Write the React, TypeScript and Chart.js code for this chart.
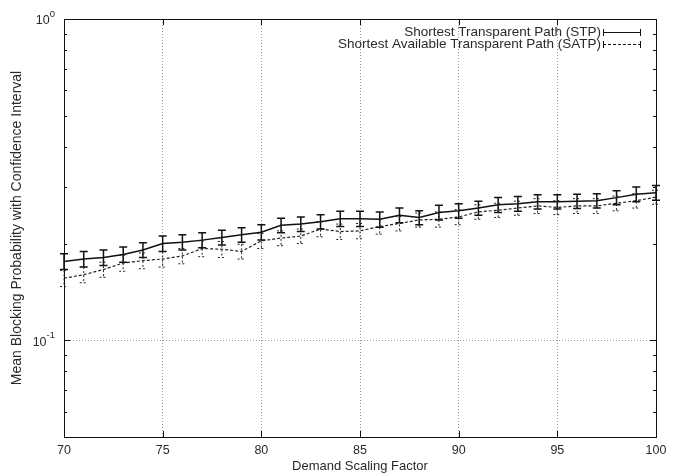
import React, { useEffect, useRef } from 'react';
import { Chart, registerables } from 'chart.js';

Chart.register(...registerables);

const FONT = '"Liberation Sans", Arial, Helvetica, sans-serif';
const TEXT = '#2a2a2a';

const demandFactors = [70, 71, 72, 73, 74, 75, 76, 77, 78, 79, 80, 81, 82, 83, 84, 85, 86, 87, 88, 89, 90, 91, 92, 93, 94, 95, 96, 97, 98, 99, 100];

const stpMean = [0.176, 0.179, 0.181, 0.185, 0.191, 0.200, 0.202, 0.205, 0.209, 0.213, 0.217, 0.228, 0.230, 0.234, 0.239, 0.239, 0.238, 0.245, 0.241, 0.250, 0.253, 0.258, 0.264, 0.266, 0.270, 0.270, 0.271, 0.272, 0.278, 0.285, 0.288];
const stpCi = [0.010, 0.010, 0.010, 0.010, 0.010, 0.011, 0.011, 0.011, 0.011, 0.011, 0.012, 0.012, 0.012, 0.012, 0.013, 0.013, 0.013, 0.013, 0.012, 0.013, 0.013, 0.013, 0.014, 0.014, 0.014, 0.014, 0.014, 0.014, 0.014, 0.015, 0.015];

const satpMean = [0.156, 0.160, 0.166, 0.174, 0.177, 0.179, 0.183, 0.193, 0.192, 0.189, 0.204, 0.208, 0.211, 0.222, 0.218, 0.219, 0.226, 0.231, 0.237, 0.238, 0.242, 0.251, 0.254, 0.258, 0.262, 0.259, 0.262, 0.262, 0.267, 0.272, 0.279];
const satpCi = [0.009, 0.009, 0.009, 0.010, 0.010, 0.010, 0.010, 0.011, 0.011, 0.010, 0.011, 0.011, 0.011, 0.012, 0.012, 0.012, 0.012, 0.012, 0.012, 0.013, 0.013, 0.013, 0.013, 0.013, 0.014, 0.013, 0.014, 0.014, 0.014, 0.014, 0.014];

const seriesNames = ['Shortest Transparent Path (STP)', 'Shortest Available Transparent Path (SATP)'];

const xTickValues = [70, 75, 80, 85, 90, 95, 100];
const yTickValues = [0.05, 0.06, 0.07, 0.08, 0.09, 0.1, 0.2, 0.3, 0.4, 0.5, 0.6, 0.7, 0.8, 0.9, 1];
const yMajorValues = [0.1, 1];
const yMajorLabels = ['10^-1', '10^0'];

const xTitle = 'Demand Scaling Factor';
const yTitle = 'Mean Blocking Probability with Confidence Interval';

const CAP = 4;

const decorPlugin = {
  id: 'gnuplotDecor',
  afterDatasetsDraw(chart: any) {
    const { ctx } = chart;
    const xs = chart.scales.x;
    const ys = chart.scales.y;
    chart.data.datasets.forEach((ds: any) => {
      ctx.save();
      ctx.strokeStyle = ds.borderColor;
      ctx.lineWidth = ds.errLineWidth;
      ctx.setLineDash(ds.errDash);
      ds.data.forEach((p: any, i: number) => {
        const px = xs.getPixelForValue(p.x);
        const top = ys.getPixelForValue(p.y + ds.ci[i]);
        const bot = ys.getPixelForValue(p.y - ds.ci[i]);
        ctx.beginPath();
        ctx.moveTo(px, top);
        ctx.lineTo(px, bot);
        ctx.moveTo(px - CAP, top);
        ctx.lineTo(px + CAP, top);
        ctx.moveTo(px - CAP, bot);
        ctx.lineTo(px + CAP, bot);
        ctx.stroke();
      });
      ctx.restore();
    });
  },
  afterDraw(chart: any) {
    const { ctx, chartArea } = chart;
    const { left, right, top, bottom } = chartArea;
    const xs = chart.scales.x;
    const ys = chart.scales.y;
    ctx.save();
    ctx.strokeStyle = '#111';
    ctx.lineWidth = 1;
    ctx.setLineDash([]);
    // frame
    ctx.strokeRect(Math.round(left) + 0.5, Math.round(top) + 0.5, Math.round(right - left), Math.round(bottom - top));
    // x ticks (inward, bottom and top)
    ctx.beginPath();
    xTickValues.forEach((v) => {
      const px = Math.round(xs.getPixelForValue(v)) + 0.5;
      ctx.moveTo(px, bottom);
      ctx.lineTo(px, bottom - 6);
      ctx.moveTo(px, top);
      ctx.lineTo(px, top + 6);
    });
    // y ticks (inward, left and right)
    yTickValues.forEach((v) => {
      const py = Math.round(ys.getPixelForValue(v)) + 0.5;
      const len = yMajorValues.includes(v) ? 6 : 3;
      ctx.moveTo(left, py);
      ctx.lineTo(left + len, py);
      ctx.moveTo(right, py);
      ctx.lineTo(right - len, py);
    });
    ctx.stroke();

    // y tick labels with superscripts
    ctx.fillStyle = TEXT;
    ctx.textBaseline = 'middle';
    yMajorValues.forEach((v, i) => {
      const [base, exp] = yMajorLabels[i].split('^');
      const py = ys.getPixelForValue(v);
      const rx = left - 9;
      ctx.font = `9.5px ${FONT}`;
      ctx.textAlign = 'right';
      const ew = ctx.measureText(exp).width;
      ctx.fillText(exp, rx, py - 5);
      ctx.font = `12.5px ${FONT}`;
      ctx.fillText(base, rx - ew, py + 2);
    });

    // legend
    const legendStyles = [
      { dash: [], width: 1.2 },
      { dash: [3, 2], width: 1 },
    ];
    const textRight = right - 55;
    const sx1 = right - 53;
    const sx2 = right - 16;
    chart.data.datasets.forEach((ds: any, i: number) => {
      const ly = top + 13 + i * 12;
      ctx.font = `13.5px ${FONT}`;
      ctx.textAlign = 'right';
      ctx.textBaseline = 'middle';
      ctx.fillStyle = TEXT;
      ctx.fillText(seriesNames[i], textRight, ly);
      ctx.strokeStyle = '#111';
      ctx.lineWidth = legendStyles[i].width;
      ctx.setLineDash(legendStyles[i].dash);
      ctx.beginPath();
      ctx.moveTo(sx1, ly + 0.5);
      ctx.lineTo(sx2, ly + 0.5);
      ctx.stroke();
      ctx.setLineDash([]);
      ctx.lineWidth = 1;
      ctx.beginPath();
      ctx.moveTo(sx1 + 0.5, ly - 3);
      ctx.lineTo(sx1 + 0.5, ly + 4);
      ctx.moveTo(sx2 + 0.5, ly - 3);
      ctx.lineTo(sx2 + 0.5, ly + 4);
      ctx.stroke();
    });
    ctx.restore();
  },
};

export default function App() {
  const canvasRef = useRef<HTMLCanvasElement | null>(null);

  useEffect(() => {
    if (!canvasRef.current) return;
    const chart = new Chart(canvasRef.current, {
      type: 'line',
      data: {
        datasets: [
          {
            label: seriesNames[0],
            data: demandFactors.map((x, i) => ({ x, y: stpMean[i] })),
            ci: stpCi,
            borderColor: '#111',
            borderWidth: 1.5,
            errLineWidth: 1.5,
            errDash: [],
            pointRadius: 0,
            fill: false,
            tension: 0,
          } as any,
          {
            label: seriesNames[1],
            data: demandFactors.map((x, i) => ({ x, y: satpMean[i] })),
            ci: satpCi,
            borderColor: '#222',
            borderWidth: 1.2,
            borderDash: [3, 2],
            errLineWidth: 1,
            errDash: [2, 2],
            pointRadius: 0,
            fill: false,
            tension: 0,
          } as any,
        ],
      },
      options: {
        responsive: false,
        animation: false,
        devicePixelRatio: 1,
        layout: { padding: { top: 19, right: 24, left: 0, bottom: 0 } },
        plugins: {
          legend: { display: false },
          tooltip: { enabled: false },
        },
        scales: {
          x: {
            type: 'linear',
            min: 70,
            max: 100,
            afterBuildTicks: (s: any) => {
              s.ticks = xTickValues.map((v) => ({ value: v }));
            },
            afterFit: (s: any) => {
              s.height = 39;
            },
            ticks: {
              font: { family: FONT, size: 12.5 },
              color: TEXT,
              padding: 6,
              maxRotation: 0,
              autoSkip: false,
            },
            grid: {
              drawTicks: false,
              lineWidth: 1,
              color: (c: any) =>
                c.tick && (c.tick.value === 70 || c.tick.value === 100) ? 'rgba(0,0,0,0)' : '#9a9a9a',
            },
            border: { display: false, dash: [1, 2] },
            title: {
              display: true,
              text: xTitle,
              color: TEXT,
              font: { family: FONT, size: 13 },
              padding: { top: 0, bottom: 2 },
            },
          },
          y: {
            type: 'logarithmic',
            min: 0.05,
            max: 1,
            afterBuildTicks: (s: any) => {
              s.ticks = yTickValues.map((v) => ({ value: v }));
            },
            afterFit: (s: any) => {
              s.width = 64;
            },
            ticks: { display: false },
            grid: {
              drawTicks: false,
              lineWidth: 1,
              color: (c: any) => (c.tick && c.tick.value === 0.1 ? '#9a9a9a' : 'rgba(0,0,0,0)'),
            },
            border: { display: false, dash: [1, 2] },
            title: {
              display: true,
              text: yTitle,
              color: TEXT,
              font: { family: FONT, size: 14 },
              padding: { top: 9, bottom: 0 },
            },
          },
        },
      } as any,
      plugins: [decorPlugin],
    });
    return () => chart.destroy();
  }, []);

  return (
    <div style={{ position: 'fixed', left: 0, top: 0, width: 680, height: 476, background: '#fff' }}>
      <canvas ref={canvasRef} width={680} height={476} style={{ display: 'block' }} />
    </div>
  );
}
